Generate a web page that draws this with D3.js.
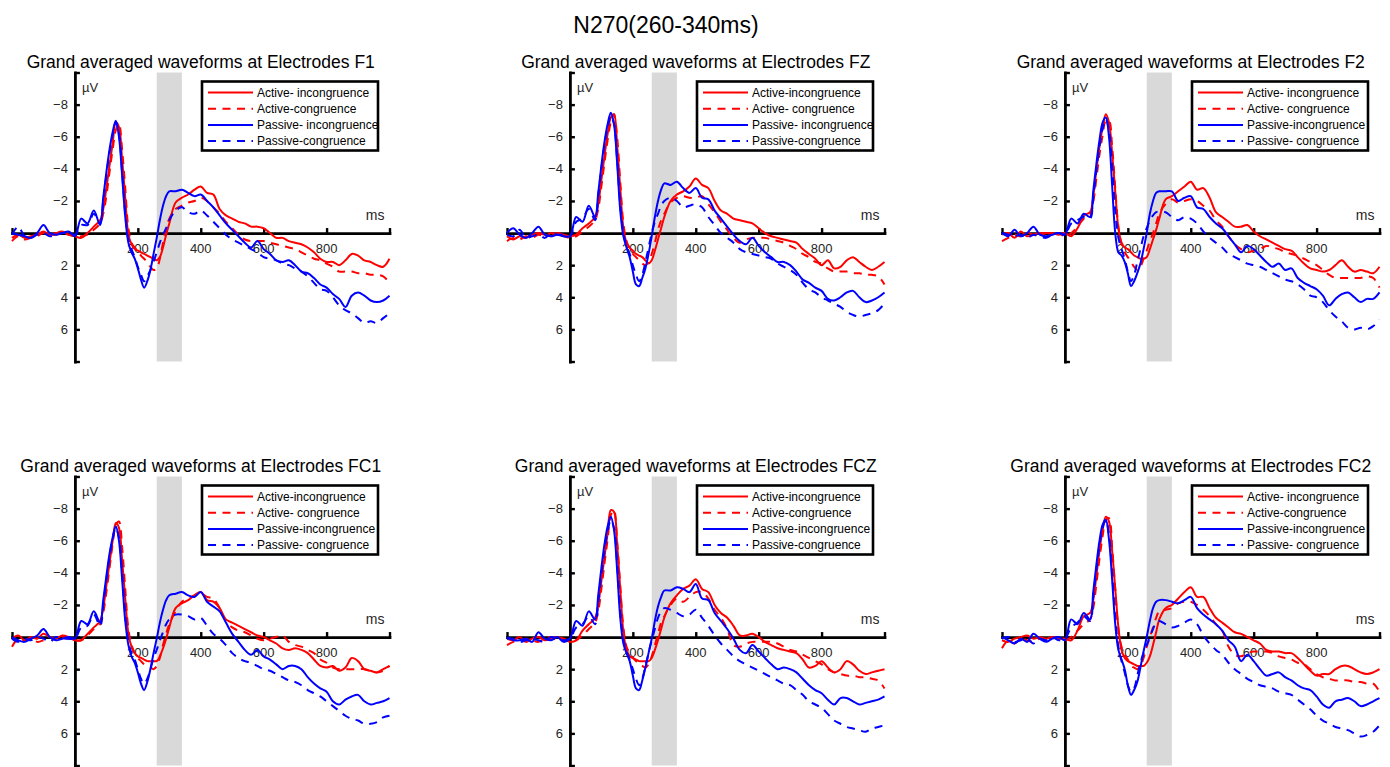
<!DOCTYPE html>
<html><head><meta charset="utf-8">
<script src="https://cdn.jsdelivr.net/npm/d3@7"></script>
<style>
body{margin:0;background:#fff;}
svg{display:block;font-family:"Liberation Sans",Arial,Helvetica,sans-serif;}
</style>
</head><body>
<svg id="chart" width="1390" height="767"></svg>
<script>
// ---------------- DATA ----------------
const mainTitle = "N270(260-340ms)";
const electrodes = ["F1","FZ","F2","FC1","FCZ","FC2"];
const times = [-200,-180,-160,-140,-120,-100,-80,-60,-40,-20,0,20,40,60,80,90,100,110,120,130,140,150,160,170,180,190,200,210,220,230,240,250,260,270,280,290,300,320,340,360,380,400,420,440,460,480,500,520,540,560,580,600,620,640,660,680,700,720,740,760,780,800,820,840,860,880,900,920,940,960,980,1000];
const shadeWindow = [260,340];
const yTicks = [-8,-6,-4,-2,2,4,6];
const xTicks = [200,400,600,800];
const seriesColors = ["#ff0000","#ff0000","#0000ff","#0000ff"];
const seriesDashed = [false,true,false,true];

const legendF1  = ["Active- incongruence","Active-congruence","Passive- incongruence","Passive-congruence"];
const legendFZ  = ["Active-incongruence","Active- congruence","Passive- incongruence","Passive-congruence"];
const legendF2  = ["Active- incongruence","Active- congruence","Passive-incongruence","Passive- congruence"];
const legendFC1 = ["Active-incongruence","Active- congruence","Passive-incongruence","Passive- congruence"];
const legendFCZ = ["Active-incongruence","Active-congruence","Passive-incongruence","Passive-congruence"];
const legendFC2 = ["Active- incongruence","Active-congruence","Passive-incongruence","Passive- congruence"];

// AI = Active-incongruence, AC = Active-congruence, PI = Passive-incongruence, PC = Passive-congruence (µV)
const F1_AI = [0.3,0.1,0.3,0.2,0.1,-0.1,0.1,0.0,-0.1,0.1,0.2, 0.3,0.0,-0.4, -0.8,-1.5,-2.8,-4.2,-5.6,-6.9,-6.6,-4.6,-2.2,0.1,0.7,1.0,1.1,1.2,1.3,1.4,1.5,1.6,1.7,1.5,0.9,0.1,-0.6, -1.9,-2.2,-2.4,-2.7,-2.9,-2.5,-2.4,-1.5,-1.1,-0.9,-0.7,-0.6,-0.4,-0.4,-0.3,0.0,0.3,0.3,0.5,0.6,0.7,0.9,1.2,1.6,1.8,1.8,2.0,1.7,1.3,1.4,1.7,1.8,2.0,2.1,1.6];
const F1_AC = [0.5,0.2,0.4,0.3,0.2,0.0,0.1,0.1,0.0,0.1,0.2, 0.2,0.1,-0.2, -0.6,-1.2,-2.3,-3.8,-5.2,-6.4,-6.8,-5.2,-2.8,-0.3,0.6,0.9,1.1,1.4,1.6,1.8,2.1,2.3,2.2,1.6,0.6,-0.3,-0.9, -1.5,-1.7,-1.9,-2.0,-2.2,-2.0,-1.6,-1.2,-0.7,-0.3,0.1,0.4,0.5,0.5,0.5,0.6,0.7,0.8,0.9,1.0,1.2,1.4,1.6,1.7,1.9,2.1,2.4,2.4,2.4,2.5,2.5,2.6,2.6,2.7,3.1];
const F1_PI = [0.0,0.1,0.2,0.3,0.0,-0.5,0.0,0.1,0.0,-0.1,0.2, -0.9,-0.6,-1.4, -0.5,-2.2,-3.8,-5.2,-6.3,-7.0,-6.0,-3.6,-1.0,0.6,1.2,1.6,2.2,2.9,3.4,3.0,2.3,1.3,0.3,-0.8,-1.7,-2.3,-2.6, -2.6,-2.7,-2.5,-2.3,-2.4,-2.0,-1.6,-1.1,-0.6,-0.2,0.2,0.6,0.9,0.5,1.0,1.3,1.7,1.8,1.7,2.0,2.4,2.5,2.8,3.2,3.4,3.8,4.1,4.6,3.9,3.7,3.9,4.2,4.3,4.2,3.9];
const F1_PC = [0.1,-0.4,0.2,0.3,0.1,0.0,0.2,0.1,0.0,0.0,0.1, -0.5,-0.5,-1.2, -0.6,-2.0,-3.6,-5.0,-6.1,-6.9,-6.2,-3.8,-1.2,0.4,1.0,1.5,2.1,2.6,3.0,2.7,2.3,1.8,1.2,0.6,0.1,-0.3,-0.8, -1.4,-1.6,-1.3,-1.2,-1.4,-1.1,-0.7,-0.3,0.1,0.4,0.6,0.8,1.0,1.2,1.5,1.6,1.7,1.9,2.0,2.2,2.4,2.7,3.1,3.5,3.6,4.0,4.5,4.8,5.0,5.3,5.6,5.5,5.6,5.3,5.0];

const FZ_AI = [0.2,0.4,0.2,0.3,0.1,0.0,0.1,0.2,0.0,0.1,0.2, 0.1,-0.3,-0.6, -1.0,-1.8,-3.3,-4.8,-6.2,-7.2,-7.4,-5.5,-2.8,-0.3,0.6,0.9,1.1,1.3,1.4,1.5,1.7,1.9,1.7,1.1,0.4,-0.3,-1.0, -2.0,-2.4,-2.6,-2.9,-3.4,-3.0,-2.8,-2.0,-1.4,-1.2,-0.9,-0.8,-0.7,-0.6,-0.3,0.0,0.2,0.3,0.4,0.5,0.6,1.0,1.3,1.6,2.0,1.7,2.2,2.1,1.7,1.5,1.8,2.1,2.3,2.1,1.8];
const FZ_AC = [0.5,0.3,0.4,0.2,0.3,0.1,0.2,0.0,0.1,0.2,0.3, 0.2,-0.1,-0.4, -0.8,-1.5,-2.9,-4.4,-5.8,-6.9,-7.4,-6.0,-3.2,-0.6,0.5,1.0,1.3,1.5,1.7,1.9,2.0,1.8,1.3,0.6,-0.2,-0.8,-1.2, -1.9,-2.2,-2.3,-2.2,-2.2,-2.3,-1.8,-1.3,-0.7,-0.2,0.3,0.6,0.4,0.3,0.3,0.3,0.4,0.5,0.6,0.8,1.0,1.3,1.5,1.8,1.9,2.2,2.4,2.4,2.4,2.5,2.5,2.6,2.6,2.7,3.2];
const FZ_PI = [0.0,-0.3,0.1,0.3,0.0,-0.4,0.1,0.2,0.1,0.2,0.2, -1.0,-0.7,-1.7, -1.0,-2.5,-4.2,-5.7,-6.8,-7.5,-6.8,-4.4,-1.4,0.2,0.9,1.5,2.4,3.2,3.3,2.8,2.2,1.3,0.2,-1.0,-2.0,-2.7,-3.1, -3.0,-3.2,-2.8,-2.5,-2.8,-2.2,-2.1,-1.4,-0.9,-0.4,0.1,0.5,0.7,0.3,0.8,1.2,1.5,1.8,1.8,2.0,2.4,2.9,3.1,3.4,3.6,4.1,4.2,4.0,3.7,3.6,4.0,4.3,4.2,4.0,3.7];
const FZ_PC = [0.1,0.2,-0.2,0.3,0.2,0.1,0.3,0.0,0.1,0.1,0.2, -0.7,-0.9,-1.5, -0.8,-2.3,-4.0,-5.5,-6.6,-7.3,-6.8,-4.6,-1.8,0.0,0.8,1.3,2.0,2.6,3.0,2.6,1.8,0.9,0.0,-0.7,-1.2,-1.7,-2.0, -2.2,-2.0,-1.6,-1.7,-1.8,-1.6,-1.0,-0.5,0.0,0.3,0.6,1.0,1.2,1.3,1.4,1.5,1.6,1.9,2.1,2.3,2.6,3.1,3.5,3.7,4.0,4.2,4.4,4.6,4.9,5.1,5.2,5.1,5.0,4.8,4.4];

const F2_AI = [0.1,0.0,0.3,-0.1,0.2,0.1,0.0,0.0,0.0,0.1,0.0, 0.2,-0.3,-1.1, -1.3,-2.3,-3.9,-5.4,-6.6,-7.4,-6.9,-5.0,-2.6,-0.3,0.6,0.9,1.0,1.2,1.4,1.5,1.6,1.6,1.5,1.0,0.4,-0.2,-0.9, -2.1,-2.3,-2.6,-2.9,-3.2,-2.7,-2.8,-2.2,-1.3,-1.0,-0.7,-0.4,-0.4,-0.5,-0.1,0.2,0.4,0.6,0.8,1.0,1.1,1.5,1.9,2.2,2.3,2.4,2.3,2.0,1.7,2.1,2.4,2.3,2.4,2.5,2.1];
const F2_AC = [0.5,0.3,0.1,0.2,0.0,0.1,0.2,0.0,0.1,0.0,0.2, 0.0,-0.4,-0.9, -1.1,-1.9,-3.4,-4.9,-6.1,-7.0,-7.0,-5.4,-2.8,-0.4,0.7,1.2,1.5,1.8,2.1,2.3,2.1,1.6,1.1,0.5,0.0,-0.6,-1.2, -1.8,-2.1,-1.9,-2.0,-2.1,-2.0,-1.7,-1.4,-0.8,-0.4,0.2,0.7,1.0,1.2,1.1,1.0,0.8,0.9,1.0,1.2,1.3,1.4,1.6,1.8,2.0,2.3,2.6,2.8,2.8,2.8,2.8,2.8,2.7,2.8,3.4];
const F2_PI = [0.0,0.2,-0.2,0.2,0.0,-0.4,0.1,0.2,0.1,0.0,0.1, -0.9,-0.6,-1.2, -1.0,-2.6,-4.3,-5.8,-6.9,-7.2,-6.0,-3.0,0.0,1.2,1.4,1.8,2.5,3.3,3.0,2.5,1.9,1.0,0.0,-1.2,-2.0,-2.5,-2.6, -2.6,-2.6,-2.0,-2.2,-2.3,-1.6,-1.5,-1.0,-0.6,-0.3,0.2,0.7,1.2,0.8,1.0,1.4,1.8,2.1,1.9,2.3,2.2,2.8,3.1,3.3,3.5,3.9,4.5,4.1,3.8,3.7,4.0,4.3,4.1,4.1,3.7];
const F2_PC = [0.0,0.1,0.2,0.1,0.3,0.1,0.2,0.3,0.1,0.0,0.1, -0.6,-0.8,-1.0, -0.9,-2.2,-3.9,-5.4,-6.5,-7.1,-6.4,-4.2,-1.4,0.3,1.0,1.6,2.4,3.0,2.6,1.8,1.0,0.2,-0.3,-0.8,-1.1,-1.3,-1.3, -1.3,-1.0,-0.8,-1.0,-0.9,-0.6,-0.1,0.3,0.6,0.9,1.3,1.5,1.7,1.9,2.0,2.1,2.3,2.5,2.7,2.9,3.0,3.2,3.5,3.9,4.0,4.3,4.8,5.2,5.5,5.9,6.0,5.9,6.0,5.8,5.4];

const FC1_AI = [0.1,-0.1,0.2,0.0,0.1,-0.2,0.0,0.1,-0.1,0.0,0.2, 0.2,-0.2,-0.6, -1.0,-1.8,-3.2,-4.6,-6.0,-7.1,-6.8,-4.8,-2.4,-0.2,0.6,1.0,1.2,1.3,1.4,1.5,1.5,1.5,1.5,1.2,0.7,0.1,-0.6, -1.8,-2.1,-2.3,-2.6,-2.8,-2.3,-2.2,-1.8,-1.1,-0.9,-0.7,-0.5,-0.3,-0.1,0.0,0.2,0.4,0.7,0.8,0.7,0.8,1.0,1.4,1.8,1.9,1.8,2.1,1.9,1.3,1.5,2.0,2.1,2.2,2.0,1.8];
const FC1_AC = [0.6,0.1,0.2,0.1,0.3,0.2,0.0,0.2,0.0,0.1,0.2, 0.2,-0.1,-0.5, -0.8,-1.5,-2.8,-4.3,-5.8,-7.0,-7.2,-5.6,-3.0,-0.5,0.5,1.0,1.3,1.5,1.7,1.8,1.9,2.0,1.8,1.3,0.5,-0.2,-0.8, -1.6,-2.2,-2.4,-2.6,-2.7,-2.5,-2.4,-1.8,-1.0,-0.6,-0.4,-0.3,-0.1,0.1,0.2,0.1,0.0,-0.1,0.3,0.5,0.6,0.8,1.0,1.4,1.6,1.9,2.0,2.0,2.0,2.0,2.0,2.1,2.2,2.1,1.8];
const FC1_PI = [0.0,0.2,0.3,0.1,-0.1,-0.5,0.0,0.2,0.1,0.0,0.1, -1.0,-0.8,-1.6, -0.9,-2.3,-3.8,-5.2,-6.2,-6.9,-6.0,-3.6,-1.0,0.5,1.2,1.6,2.2,2.9,3.3,2.8,2.0,1.0,0.1,-0.9,-1.7,-2.3,-2.6, -2.7,-2.8,-2.6,-2.5,-2.8,-2.2,-1.9,-1.6,-0.9,-0.2,0.3,0.8,1.1,0.8,1.2,1.4,1.7,2.0,1.8,1.8,2.0,2.5,2.9,3.2,3.4,4.0,4.2,3.9,3.7,3.6,4.0,4.2,4.1,4.0,3.8];
const FC1_PC = [0.1,0.3,0.1,0.2,0.0,0.1,0.3,0.0,0.1,0.1,0.1, -0.6,-0.7,-1.4, -0.7,-2.0,-3.6,-5.0,-6.1,-6.8,-6.2,-4.0,-1.4,0.3,1.0,1.4,2.0,2.6,2.9,2.6,2.0,1.3,0.8,0.2,-0.3,-0.8,-1.1, -1.4,-1.4,-1.3,-1.1,-1.2,-0.7,-0.2,0.1,0.5,1.0,1.3,1.5,1.6,1.8,2.0,2.1,2.3,2.5,2.7,2.8,3.0,3.3,3.5,3.7,4.0,4.3,4.6,4.9,5.1,5.2,5.4,5.4,5.3,5.0,4.9];

const FCZ_AI = [0.1,0.2,0.0,0.3,0.1,0.0,0.2,0.1,0.0,0.1,0.3, 0.2,-0.4,-0.8, -1.2,-2.0,-3.5,-5.0,-6.5,-7.9,-7.8,-5.8,-3.0,-0.3,0.8,1.2,1.3,1.4,1.5,1.5,1.5,1.5,1.3,0.8,0.2,-0.5,-1.2, -2.1,-2.6,-3.0,-3.2,-3.6,-3.0,-2.8,-2.0,-1.5,-1.2,-0.7,-0.1,-0.1,-0.2,0.0,0.3,0.5,0.7,0.8,0.9,1.0,1.4,1.9,1.8,1.5,1.9,2.2,2.0,1.5,1.7,2.1,2.3,2.2,2.1,2.0];
const FCZ_AC = [0.5,0.3,0.2,0.1,0.2,0.3,0.1,0.0,0.2,0.1,0.3, 0.2,-0.1,-0.5, -0.9,-1.6,-3.0,-4.6,-6.1,-7.6,-7.9,-6.0,-3.2,-0.6,0.6,1.0,1.3,1.5,1.7,1.8,1.9,1.7,1.2,0.5,-0.2,-0.9,-1.3, -2.0,-2.4,-2.2,-2.5,-2.8,-2.8,-2.4,-1.7,-1.2,-0.5,0.5,0.6,0.4,0.3,0.3,0.3,0.3,0.4,0.6,0.8,0.9,1.1,1.3,1.5,1.7,2.0,2.2,2.3,2.4,2.4,2.5,2.5,2.6,2.7,3.2];
const FCZ_PI = [0.0,0.2,0.2,0.1,0.3,-0.3,0.1,0.2,0.0,0.3,0.1, -1.0,-0.7,-1.6, -1.1,-2.6,-4.3,-5.8,-6.9,-7.5,-6.7,-4.2,-1.2,0.4,1.0,1.5,2.4,3.2,3.3,2.7,1.9,1.0,0.1,-1.0,-1.9,-2.5,-2.9, -2.9,-3.1,-3.0,-2.8,-3.3,-2.4,-2.3,-1.5,-1.0,-0.5,0.1,0.8,1.0,0.5,0.9,1.3,1.7,2.0,1.9,2.0,2.2,2.6,3.0,3.3,3.5,3.9,4.2,3.8,3.8,4.0,4.2,4.1,4.0,3.9,3.7];
const FCZ_PC = [0.1,0.1,0.3,0.2,0.1,0.2,0.3,0.0,0.1,0.2,0.1, -0.6,-0.8,-1.3, -0.8,-2.2,-3.9,-5.4,-6.6,-7.3,-6.8,-4.6,-1.6,0.2,0.9,1.4,2.0,2.6,3.0,2.6,1.8,1.0,0.2,-0.5,-1.2,-1.6,-1.8, -1.7,-1.5,-1.3,-1.4,-1.7,-1.2,-0.7,-0.1,0.4,0.8,1.2,1.5,1.7,1.9,2.1,2.3,2.5,2.7,2.9,3.0,3.3,3.6,4.0,4.2,4.4,4.8,5.2,5.4,5.6,5.7,5.8,5.9,5.7,5.6,5.5];

const FC2_AI = [0.2,0.3,0.1,0.0,-0.1,0.1,0.0,0.1,0.0,0.1,0.1, 0.2,-0.4,-1.3, -1.5,-2.3,-3.8,-5.4,-6.7,-7.5,-7.2,-5.4,-3.0,-0.6,0.8,1.3,1.5,1.6,1.7,1.8,1.8,1.8,1.6,1.2,0.5,-0.3,-1.1, -1.8,-2.0,-2.4,-2.8,-3.1,-2.5,-2.5,-1.8,-1.2,-0.9,-0.6,-0.3,-0.2,0.0,0.2,0.4,0.8,0.9,0.9,1.0,1.0,1.3,1.7,2.1,2.4,2.3,2.3,2.0,1.8,1.8,2.0,2.2,2.3,2.2,2.0];
const FC2_AC = [0.7,0.2,0.4,0.1,0.2,0.3,0.1,0.2,0.0,0.1,0.2, 0.0,-0.4,-0.8, -1.1,-1.8,-3.3,-4.9,-6.3,-7.3,-7.4,-5.6,-3.0,-0.5,0.6,1.1,1.4,1.8,1.9,2.0,1.8,1.3,0.6,0.0,-0.6,-1.2,-1.6, -1.7,-1.8,-2.1,-2.2,-2.2,-2.0,-1.7,-1.3,-0.8,-0.4,0.6,1.1,1.2,1.0,0.9,0.9,0.9,1.0,1.2,1.3,1.4,1.6,1.7,2.0,2.3,2.5,2.6,2.7,2.7,2.7,2.8,2.8,2.9,2.9,3.4];
const FC2_PI = [0.0,0.2,0.4,0.1,0.3,-0.2,0.1,0.3,0.1,0.0,0.2, -1.1,-0.8,-1.5, -1.1,-2.8,-4.5,-6.0,-7.0,-7.3,-6.1,-3.6,-0.8,0.8,1.4,2.0,3.0,3.6,3.3,2.8,1.9,0.9,0.0,-1.0,-1.8,-2.2,-2.3, -2.3,-2.2,-2.1,-2.3,-2.5,-1.8,-1.4,-1.1,-0.8,-0.4,0.2,0.6,1.5,1.1,1.5,2.0,2.4,2.3,2.2,2.5,2.7,3.0,3.2,3.3,3.7,4.2,4.4,4.0,3.9,3.8,4.0,4.3,4.2,4.0,3.8];
const FC2_PC = [0.1,0.0,0.3,0.2,0.1,0.4,0.1,0.2,0.0,0.2,0.1, -0.6,-0.9,-1.3, -1.0,-2.5,-4.2,-5.7,-6.8,-7.3,-6.4,-4.0,-1.2,0.6,1.5,2.2,3.0,3.4,3.2,2.4,1.6,1.0,0.5,0.0,-0.5,-0.9,-1.0, -0.8,-0.6,-0.7,-0.9,-1.1,-0.8,-0.1,0.4,0.8,1.1,1.6,2.0,2.3,2.6,2.8,3.0,3.1,3.2,3.4,3.5,3.6,3.9,4.2,4.5,4.9,5.2,5.4,5.6,5.7,5.8,6.0,6.2,6.1,5.9,5.5];

const panelSeries = [
  [F1_AI,F1_AC,F1_PI,F1_PC],
  [FZ_AI,FZ_AC,FZ_PI,FZ_PC],
  [F2_AI,F2_AC,F2_PI,F2_PC],
  [FC1_AI,FC1_AC,FC1_PI,FC1_PC],
  [FCZ_AI,FCZ_AC,FCZ_PI,FCZ_PC],
  [FC2_AI,FC2_AC,FC2_PI,FC2_PC]
];
const panelLegends = [legendF1,legendFZ,legendF2,legendFC1,legendFCZ,legendFC2];

// ---------------- LAYOUT ----------------
const colLeft = [12, 507, 1002];
const rowTop = [72.5, 476.5];
const plotW = 377.5, plotH = 289;
const axisColor = "#000", labelColor = "#262626";

const svg = d3.select("#chart");
svg.append("rect").attr("width",1390).attr("height",767).attr("fill","#fff");

svg.append("text").attr("x",666).attr("y",33).attr("text-anchor","middle")
  .attr("font-size",23).attr("fill","#000").text(mainTitle);

const fmt = v => (v < 0 ? "\u2212" + Math.abs(v) : String(v));

electrodes.forEach((el, i) => {
  const left = colLeft[i % 3], top = rowTop[Math.floor(i / 3)];
  const x = d3.scaleLinear().domain([-200, 1000]).range([left, left + plotW]);
  const y = d3.scaleLinear().domain([-10, 8]).range([top, top + plotH]);
  const g = svg.append("g");

  // title
  g.append("text").attr("x", left + plotW / 2).attr("y", top - 4.5)
    .attr("text-anchor","middle").attr("font-size",17.5).attr("fill","#000")
    .text("Grand averaged waveforms at Electrodes " + el);

  // shaded window
  g.append("rect").attr("x", x(shadeWindow[0])).attr("y", y(-10))
    .attr("width", x(shadeWindow[1]) - x(shadeWindow[0]))
    .attr("height", y(8) - y(-10)).attr("fill", "#d9d9d9");

  // x axis (at y = 0)
  const xa = g.append("g").attr("transform", `translate(0,${y(0)})`)
    .call(d3.axisTop(x).tickValues([-200,0,200,400,600,800,1000]).tickSizeInner(5).tickSizeOuter(0).tickFormat(""));
  // y axis (at x = 0)
  const ya = g.append("g").attr("transform", `translate(${x(0)},0)`)
    .call(d3.axisRight(y).tickValues([-10,-8,-6,-4,-2,0,2,4,6,8]).tickSizeInner(5).tickSizeOuter(0).tickFormat(""));
  [xa, ya].forEach(a => {
    a.select(".domain").attr("stroke", axisColor).attr("stroke-width", 2.8).attr("stroke-linecap","square");
    a.selectAll(".tick line").attr("stroke", axisColor).attr("stroke-width", 2.4);
  });

  // tick labels
  g.selectAll(".ylab").data(yTicks).join("text")
    .attr("x", x(0) - 7).attr("y", d => y(d)).attr("dy","0.35em")
    .attr("text-anchor","end").attr("font-size",13).attr("fill",labelColor).text(fmt);
  g.selectAll(".xlab").data(xTicks).join("text")
    .attr("x", d => x(d)).attr("y", y(0) + 20)
    .attr("text-anchor","middle").attr("font-size",13).attr("fill",labelColor).text(fmt);
  g.append("text").attr("x", x(0) + 7).attr("y", top + 19)
    .attr("font-size",13).attr("fill",labelColor).text("\u00b5V");
  g.append("text").attr("x", x(1000) - 5).attr("y", y(0) - 13)
    .attr("text-anchor","end").attr("font-size",14).attr("fill",labelColor).text("ms");

  // waveforms
  const line = d3.line().x((d, j) => x(times[j])).y(d => y(d)).curve(d3.curveCatmullRom.alpha(0.5));
  panelSeries[i].forEach((s, k) => {
    g.append("path").attr("d", line(s)).attr("fill","none")
      .attr("stroke", seriesColors[k]).attr("stroke-width", 2)
      .attr("stroke-linejoin","round")
      .attr("stroke-dasharray", seriesDashed[k] ? "8,6.5" : null);
  });

  // legend
  const lx = left + 190, ly = top + 9, lw = 176, lh = 69;
  const lg = g.append("g");
  lg.append("rect").attr("x", lx).attr("y", ly).attr("width", lw).attr("height", lh)
    .attr("fill","#fff").attr("stroke","#000").attr("stroke-width",2.6);
  panelLegends[i].forEach((t, k) => {
    const ry = ly + 11 + k * 16.2;
    lg.append("line").attr("x1", lx + 6).attr("x2", lx + 51).attr("y1", ry).attr("y2", ry)
      .attr("stroke", seriesColors[k]).attr("stroke-width", 2)
      .attr("stroke-dasharray", seriesDashed[k] ? "8,6.5" : null);
    lg.append("text").attr("x", lx + 55).attr("y", ry).attr("dy","0.35em")
      .attr("font-size",12).attr("fill","#000").text(t);
  });
});
</script>
</body></html>
